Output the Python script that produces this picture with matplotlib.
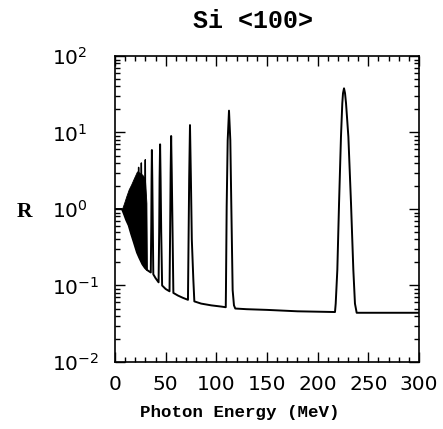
import numpy as np
import matplotlib
matplotlib.use("Agg")
import matplotlib.pyplot as plt
from matplotlib.ticker import MultipleLocator, LogLocator, LogFormatterMathtext, NullFormatter

# ---- data ----
# dense, unresolved oscillation band at low energy
band_E = [6.9, 9.0, 11.0, 13.5, 16.0, 18.5, 21.7, 24.0, 27.0, 29.5, 31.0, 31.5]
band_hi = [1.0, 1.2, 1.45, 1.8, 2.1, 2.5, 3.1, 3.0, 2.8, 2.5, 1.2, 0.16]
band_lo = [1.0, 0.85, 0.72, 0.61, 0.47, 0.37, 0.27, 0.23, 0.19, 0.17, 0.16, 0.16]

# resolved spikes rising above the dense band
spike_E = [[22.8, 23.3, 23.8], [25.5, 26.0, 26.5], [29.3, 29.9, 30.5]]
spike_R = [[1.5, 3.5, 1.5], [1.5, 4.0, 1.5], [0.5, 4.4, 0.2]]

# main curve
curve_E = [0, 6.9, 9.0, 11.0, 13.5, 16.0, 18.5, 21.7, 24.0, 27.0, 29.5, 31.5,
           33.0, 35.3, 35.8, 36.1, 36.4, 36.8, 37.3, 37.8,
           40.0, 43.0, 43.6, 44.0, 44.5, 45.0, 45.6, 46.5,
           50.0, 53.8, 54.4, 54.9, 55.4, 56.0, 56.8, 57.6,
           62.0, 67.0, 72.0, 72.5, 73.2, 74.0, 74.9, 75.8, 77.3, 78.3,
           85.0, 95.0, 105.0, 109.3, 109.5, 110.2, 111.2, 112.5, 113.8, 114.8, 116.1, 117.4, 118.7,
           130.0, 150.0, 180.0, 217.1, 217.8, 219.4, 221.1, 223.0, 224.3, 225.0, 226.0,
           227.0, 228.0, 230.3, 232.9, 235.2, 236.8, 238.5, 260.0, 300.0]
curve_R = [1.0, 1.0, 0.85, 0.72, 0.61, 0.47, 0.37, 0.27, 0.23, 0.19, 0.17, 0.16,
           0.155, 0.148, 0.6, 2.5, 5.9, 2.5, 0.6, 0.14,
           0.125, 0.11, 0.5, 2.5, 7.0, 2.5, 0.5, 0.1,
           0.09, 0.084, 0.5, 3.0, 9.0, 3.0, 0.5, 0.08,
           0.074, 0.069, 0.065, 0.3, 2.5, 12.5, 2.5, 0.4, 0.12, 0.062,
           0.058, 0.055, 0.053, 0.052, 0.09, 1.07, 7.9, 19.3, 7.9, 1.07, 0.087, 0.055, 0.05,
           0.049, 0.048, 0.046, 0.045, 0.058, 0.16, 1.19, 8.8, 24.0, 32.6, 37.8,
           32.6, 24.0, 8.8, 1.19, 0.16, 0.058, 0.044, 0.044, 0.044]

x_ticks = [0, 50, 100, 150, 200, 250, 300]
title_text = "Si <100>"
xlabel_text = "Photon Energy (MeV)"
ylabel_text = "R"

# ---- figure ----
W, H = 443, 429
fig = plt.figure(figsize=(W / 100, H / 100), dpi=100)
L, R_, T, B = 115, 419, 56, 362
ax = fig.add_axes([L / W, 1 - B / H, (R_ - L) / W, (B - T) / H])

ax.fill_between(band_E, band_lo, band_hi, color="black", lw=0.6)
ax.plot(curve_E, curve_R, color="black", lw=1.4)
for se, sr in zip(spike_E, spike_R):
    ax.plot(se, sr, color="black", lw=1.0)

ax.set_yscale("log")
ax.set_xlim(0, 300)
ax.set_ylim(1e-2, 1e2)
ax.set_xticks(x_ticks)
ax.xaxis.set_minor_locator(MultipleLocator(10))
ax.yaxis.set_major_locator(LogLocator(base=10, numticks=10))
ax.yaxis.set_minor_locator(LogLocator(base=10, subs=np.arange(2, 10), numticks=20))
ax.yaxis.set_major_formatter(LogFormatterMathtext())
ax.yaxis.set_minor_formatter(NullFormatter())

for s in ax.spines.values():
    s.set_linewidth(1.2)

ax.tick_params(which="both", direction="in", top=True, right=True, width=1.0)
ax.tick_params(which="major", length=7)
ax.tick_params(which="minor", length=3.5)
ax.tick_params(axis="x", which="major", labelsize=14.5, pad=9)
ax.tick_params(axis="y", which="major", labelsize=14.5, pad=45.5)
for lab in ax.get_yticklabels():
    lab.set_horizontalalignment("left")

fig.text(253 / W, 1 - 28.3 / H, title_text, ha="center", va="baseline",
         family="Liberation Mono", weight="bold", fontsize=18)
fig.text(240 / W, 1 - 416.5 / H, xlabel_text, ha="center", va="baseline",
         family="Liberation Mono", weight="bold", fontsize=12.6)
fig.text(24.5 / W, 1 - 216.7 / H, ylabel_text, ha="center", va="baseline",
         family="Liberation Serif", weight="bold", fontsize=15.5)

fig.savefig("out.png", dpi=100)
